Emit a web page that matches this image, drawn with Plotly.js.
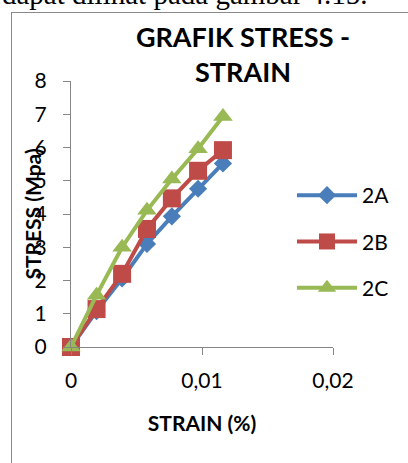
<!DOCTYPE html>
<html>
<head>
<meta charset="utf-8">
<script src="https://cdn.plot.ly/plotly-3.0.1.min.js"></script>
<style>
  html, body { margin: 0; padding: 0; width: 408px; height: 463px; overflow: hidden; background: #fff; }
  #doc { position: absolute; left: 2px; top: -20px; font-family: "Liberation Serif", serif; font-size: 29px; line-height: 29px; white-space: nowrap; color: #000; z-index: 1; }
  #frame { position: absolute; left: 11px; top: 12px; width: 600px; height: 600px; border: 1.5px solid #8a8a8a; box-sizing: border-box; background: #fff; z-index: 2; }
  #chart { position: absolute; left: 0; top: 0; width: 408px; height: 463px; z-index: 3; }
</style>
</head>
<body>
<div id="doc">dapat dilihat pada gambar 4.15.</div>
<div id="frame"></div>
<div id="chart"></div>
<script>
// Data
const strain = [0, 0.00195, 0.0039, 0.0058, 0.0077, 0.0097, 0.0116];
const stress2A = [0, 1.08, 2.06, 3.1, 3.93, 4.76, 5.52];
const stress2B = [0, 1.14, 2.2, 3.55, 4.47, 5.3, 5.92];
const stress2C = [0, 1.56, 3.0, 4.11, 5.05, 5.96, 6.93];
const seriesNames = ["2A", "2B", "2C"];
const xTicks = [0, 0.01, 0.02];
const yTicks = [0, 1, 2, 3, 4, 5, 6, 7, 8];

const colors = ["#4A7EBB", "#BE4B48", "#98B954"];
const symbols = ["diamond", "square", "triangle-up"];
const sizes = [14, 18, 17];
const ys = [stress2A, stress2B, stress2C];

const traces = seriesNames.map((n, i) => ({
  x: strain, y: ys[i], name: n, type: "scatter", mode: "lines+markers",
  legendgroup: n,
  line: { color: colors[i], width: 4 },
  marker: { symbol: symbols[i], size: sizes[i], color: colors[i], line: { width: 0 } },
  cliponaxis: false
}));

const font = "Lato, 'Open Sans', sans-serif";
const layout = {
  width: 408, height: 463,
  paper_bgcolor: "rgba(0,0,0,0)", plot_bgcolor: "rgba(0,0,0,0)",
  separators: ",.",
  margin: { l: 71, r: 75, t: 81, b: 115.5, pad: 0 },
  font: { family: font, size: 21, color: "#000" },
  title: {
    text: "<b>GRAFIK STRESS -<br>STRAIN</b>",
    font: { family: font, size: 27, color: "#000" },
    xref: "container", x: 243 / 408, xanchor: "center",
    yref: "container", y: 1 - 47 / 463, yanchor: "top"
  },
  xaxis: {
    range: [0, 0.02], tickvals: xTicks, ticks: "outside", ticklen: 7, tickcolor: "#868686",
    showline: true, linecolor: "#868686", linewidth: 1, showgrid: false, zeroline: false,
    tickfont: { family: font, size: 21 }, ticklabelstandoff: 8,
    title: { text: "<b>STRAIN (%)</b>", font: { family: font, size: 21 }, standoff: 25 },
    automargin: false, fixedrange: true
  },
  yaxis: {
    range: [0, 8], tickvals: yTicks, ticks: "outside", ticklen: 7, tickcolor: "#868686",
    showline: true, linecolor: "#868686", linewidth: 1, showgrid: false, zeroline: false,
    tickfont: { family: font, size: 21 }, ticklabelstandoff: 12,
    automargin: false, fixedrange: true
  },
  annotations: [{
    text: "<b>STRESS (Mpa)</b>", textangle: -90, showarrow: false,
    xref: "paper", yref: "paper", x: (31.6 - 71) / 262, y: 0.5,
    xanchor: "center", yanchor: "middle",
    font: { family: font, size: 21, color: "#000" }
  }],
  legend: {
    x: (292 - 71) / 262, xanchor: "left", y: 1 - (175 - 81) / 266, yanchor: "top",
    bgcolor: "rgba(0,0,0,0)", borderwidth: 0, tracegroupgap: 16, itemwidth: 60,
    font: { family: font, size: 21 }
  },
  showlegend: true
};

Plotly.newPlot("chart", traces, layout, { staticPlot: true, displayModeBar: false });
</script>
</body>
</html>
